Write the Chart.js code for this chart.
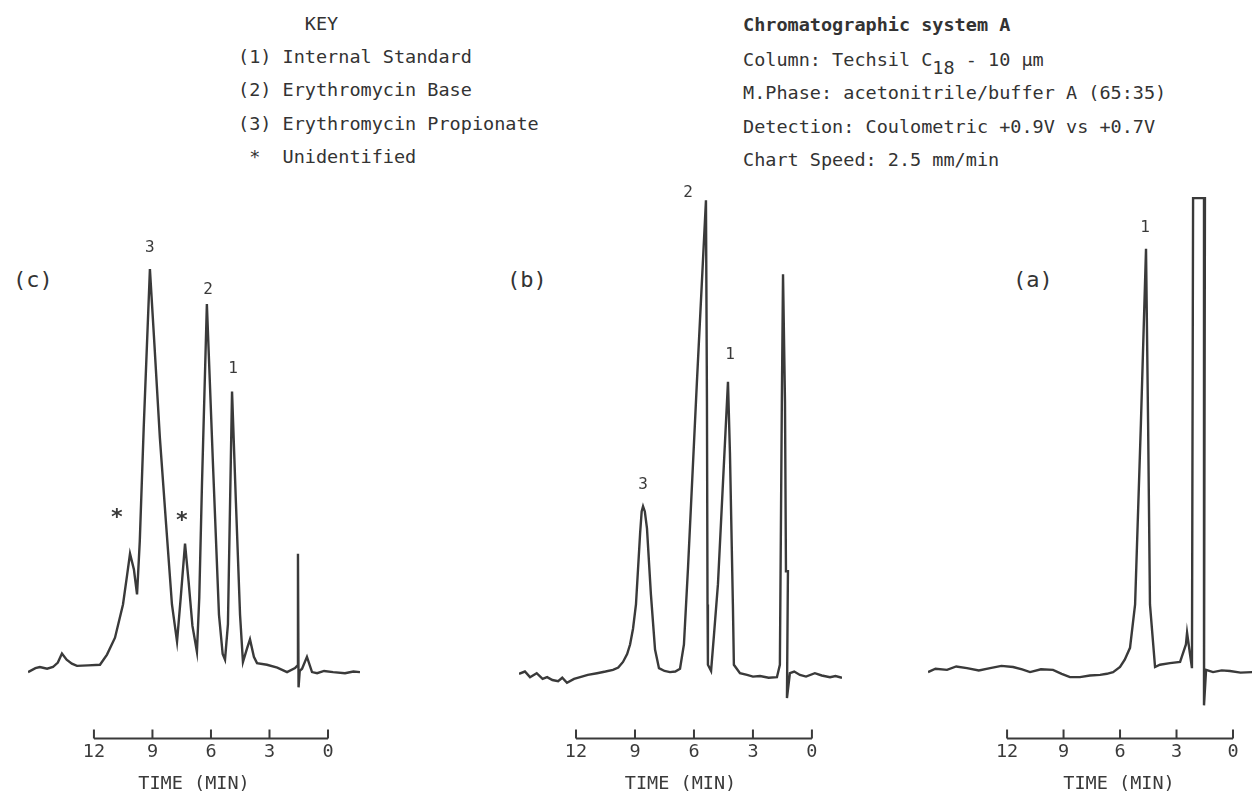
<!DOCTYPE html>
<html>
<head>
<meta charset="utf-8">
<script src="https://cdn.jsdelivr.net/npm/chart.js@4.4.1/dist/chart.umd.min.js"></script>
<style>
  body { margin: 0; width: 1252px; height: 791px; overflow: hidden; background: #fff;
         font-family: "DejaVu Sans Mono", monospace; color: #333; }
  .t { position: absolute; font-size: 18.5px; line-height: 1; white-space: pre; }
  .lab { position: absolute; font-size: 22px; line-height: 1; white-space: pre; }
  canvas { position: absolute; top: 175px; }
  sub { font-size: 18.5px; position: relative; top: 8px; vertical-align: baseline; }
</style>
</head>
<body>

<div class="t" style="left:238px;top:15px">      KEY</div>
<div class="t" style="left:238px;top:48px">(1) Internal Standard</div>
<div class="t" style="left:238px;top:81px">(2) Erythromycin Base</div>
<div class="t" style="left:238px;top:115px">(3) Erythromycin Propionate</div>
<div class="t" style="left:238px;top:148px"> *  Unidentified</div>

<div class="t" style="left:743px;top:16px;font-weight:bold">Chromatographic system A</div>
<div class="t" style="left:743px;top:51px">Column: Techsil C<sub>18</sub> - 10 µm</div>
<div class="t" style="left:743px;top:84px">M.Phase: acetonitrile/buffer A (65:35)</div>
<div class="t" style="left:743px;top:118px">Detection: Coulometric +0.9V vs +0.7V</div>
<div class="t" style="left:743px;top:151px">Chart Speed: 2.5 mm/min</div>

<div class="lab" style="left:13px;top:269px">(c)</div>
<div class="lab" style="left:507px;top:269px">(b)</div>
<div class="lab" style="left:1013px;top:269px">(a)</div>

<canvas id="chartC" width="332" height="620" style="left:28px"></canvas>
<canvas id="chartB" width="323" height="620" style="left:519px"></canvas>
<canvas id="chartA" width="382" height="620" style="left:928px"></canvas>

<script>
// time axis (minutes, read right to left) and detector response (0-100)
var tickValues = [12, 9, 6, 3, 0];

// (c)
var timeC = [15.38, 15.0, 14.77, 14.4, 14.10, 13.85, 13.64, 13.4, 13.13, 12.87,
             12.3, 11.69, 11.33, 10.92, 10.51, 10.3, 10.15, 9.95, 9.79, 9.65,
             9.45, 9.13, 8.9, 8.62, 8.3, 8.0, 7.74, 7.55, 7.33, 7.15,
             6.95, 6.72, 6.6, 6.46, 6.21, 5.90, 5.59, 5.40, 5.28, 5.13,
             4.92, 4.72, 4.51, 4.36, 4.15, 4.0, 3.8, 3.64, 3.13, 2.6,
             2.10, 1.69, 1.56, 1.54, 1.51, 1.45, 1.33, 1.08, 0.82, 0.56,
             0.2, -0.26, -0.87, -1.3, -1.64];
var signalC = [11.8, 12.5, 12.7, 12.4, 12.7, 13.5, 15.1, 14.0, 13.3, 12.9,
               13.0, 13.1, 14.9, 17.9, 23.8, 29.0, 32.8, 30.0, 25.6, 35.0,
               55.0, 83.3, 70.0, 53.4, 38.0, 23.8, 17.2, 25.0, 34.6, 28.0,
               20.0, 15.4, 25.0, 45.3, 77.1, 48.9, 22.0, 15.0, 14.0, 20.3,
               61.6, 41.8, 22.0, 13.6, 16.0, 17.6, 14.5, 13.4, 13.1, 12.6,
               11.8, 12.5, 13.0, 32.8, 9.1, 12.0, 12.4, 14.5, 11.8, 11.6,
               12.0, 11.8, 11.6, 11.9, 11.8];
var peakTextC = ['3', '2', '1', '*', '*'];
var peakTimeC = [9.13, 6.15, 4.87, 10.82, 7.49];
var peakLevelC = [87.1, 79.7, 65.6, 40.0, 39.4];

// (b)
var timeB = [14.90, 14.6, 14.34, 14.0, 13.7, 13.47, 13.2, 12.91, 12.7, 12.46,
             12.1, 11.79, 11.4, 10.93, 10.5, 10.12, 9.85, 9.61, 9.4, 9.25,
             9.1, 8.95, 8.74, 8.66, 8.59, 8.50, 8.39, 8.19, 7.98, 7.78,
             7.5, 7.22, 6.95, 6.71, 6.51, 6.30, 5.85, 5.39, 5.34, 5.31,
             5.29, 5.13, 4.98, 4.78, 4.27, 4.17, 4.02, 3.97, 3.66, 3.30,
             3.0, 2.64, 2.2, 1.78, 1.63, 1.53, 1.47, 1.37, 1.32, 1.22,
             1.27, 1.12, 0.9, 0.61, 0.3, -0.15, -0.5, -0.92, -1.2, -1.53];
var signalB = [11.5, 11.9, 10.9, 11.6, 10.6, 10.9, 10.4, 10.2, 10.8, 9.9,
               10.6, 10.9, 11.3, 11.6, 11.9, 12.2, 12.6, 13.6, 15.0, 16.7,
               19.5, 23.8, 36.4, 40.3, 41.2, 40.3, 37.3, 25.6, 15.8, 12.5,
               12.0, 11.8, 11.9, 12.4, 16.7, 30.5, 63.3, 95.5, 60.0, 23.8,
               13.1, 12.0, 18.5, 27.4, 63.3, 50.7, 23.8, 13.1, 11.6, 11.3,
               11.0, 11.1, 10.8, 10.9, 13.1, 59.7, 82.4, 59.7, 29.7, 29.7,
               7.2, 11.6, 11.9, 11.3, 11.0, 11.6, 11.2, 10.9, 11.1, 10.8];
var peakTextB = ['3', '2', '1'];
var peakTimeB = [8.59, 6.30, 4.17];
var peakLevelB = [45.0, 96.8, 68.1];

// (a)
var timeA = [16.20, 15.8, 15.19, 14.7, 14.13, 13.5, 12.90, 12.3, 11.68, 11.2,
             10.78, 10.2, 9.56, 9.1, 8.66, 8.13, 7.6, 7.06, 6.7, 6.37,
             6.0, 5.75, 5.47, 5.20, 4.89, 4.62, 4.51, 4.41, 4.14, 3.88,
             3.35, 2.81, 2.50, 2.44, 2.28, 2.18, 2.12, 1.49, 1.54, 1.43,
             1.06, 0.6, 0.16, -0.4, -1.01, -1.5];
var signalA = [11.8, 12.4, 12.2, 12.8, 12.5, 12.1, 12.5, 12.9, 12.7, 12.3,
               11.8, 12.3, 12.2, 11.5, 10.9, 10.9, 11.2, 11.3, 11.5, 11.8,
               12.7, 14.0, 16.1, 23.8, 56.1, 86.9, 56.1, 23.8, 12.7, 13.1,
               13.4, 13.6, 16.7, 18.8, 14.9, 12.5, 95.9, 95.9, 5.9, 12.2,
               11.8, 12.1, 12.0, 11.7, 11.8, 11.9];
var peakTextA = ['1'];
var peakTimeA = [4.67];
var peakLevelA = [90.7];

var ink = '#3a3a3a';
var mono = '"DejaVu Sans Mono", monospace';

// draws the time bar (12..0) with upward ticks and the peak numbers
var scaleBar = {
    id: 'scaleBar',
    afterDraw: function (chart, args, opts) {
        var ctx = chart.ctx;
        var xs = chart.scales.x;
        var ys = chart.scales.y;
        var y0 = chart.chartArea.bottom;
        ctx.save();
        ctx.strokeStyle = ink;
        ctx.lineWidth = 2;
        ctx.beginPath();
        ctx.moveTo(xs.getPixelForValue(tickValues[0]), y0);
        ctx.lineTo(xs.getPixelForValue(tickValues[tickValues.length - 1]), y0);
        tickValues.forEach(function (v) {
            var px = xs.getPixelForValue(v);
            ctx.moveTo(px, y0);
            ctx.lineTo(px, y0 - 9);
        });
        ctx.stroke();

        ctx.fillStyle = ink;
        ctx.textAlign = 'center';
        ctx.textBaseline = 'middle';
        for (var i = 0; i < opts.text.length; i++) {
            var px = xs.getPixelForValue(opts.time[i]);
            var py = ys.getPixelForValue(opts.level[i]);
            if (opts.text[i] === '*') {
                ctx.font = 'bold 22px ' + mono;
                ctx.fillText('*', px, py + 5);
            } else {
                ctx.font = '16px ' + mono;
                ctx.fillText(opts.text[i], px, py);
            }
        }
        ctx.restore();
    }
};

function drawPanel(id, time, signal, tMin, tMax, peakText, peakTime, peakLevel) {
    var points = time.map(function (t, i) { return { x: t, y: signal[i] }; });
    new Chart(document.getElementById(id), {
        type: 'line',
        data: {
            datasets: [{
                data: points,
                borderColor: ink,
                borderWidth: 2.4,
                pointRadius: 0,
                tension: 0,
                fill: false
            }]
        },
        options: {
            responsive: false,
            animation: false,
            events: [],
            layout: { padding: 0 },
            plugins: {
                legend: { display: false },
                tooltip: { enabled: false },
                scaleBar: { text: peakText, time: peakTime, level: peakLevel }
            },
            scales: {
                x: {
                    type: 'linear',
                    reverse: true,
                    min: tMin,
                    max: tMax,
                    afterBuildTicks: function (axis) {
                        axis.ticks = tickValues.map(function (v) { return { value: v }; });
                    },
                    grid: { display: false, drawTicks: false },
                    border: { display: false },
                    ticks: { padding: 2, color: ink, maxRotation: 0, autoSkip: false,
                             font: { family: mono, size: 18.5 } },
                    title: { display: true, text: 'TIME (MIN)', color: ink,
                             font: { family: mono, size: 18.5 },
                             padding: { top: 8, bottom: 0 } }
                },
                y: { display: false, min: 0, max: 100 }
            }
        },
        plugins: [scaleBar]
    });
}

drawPanel('chartC', timeC, signalC, -1.64, 15.38, peakTextC, peakTimeC, peakLevelC);
drawPanel('chartB', timeB, signalB, -1.53, 14.90, peakTextB, peakTimeB, peakLevelB);
drawPanel('chartA', timeA, signalA, -4.09, 16.20, peakTextA, peakTimeA, peakLevelA);
</script>
</body>
</html>
